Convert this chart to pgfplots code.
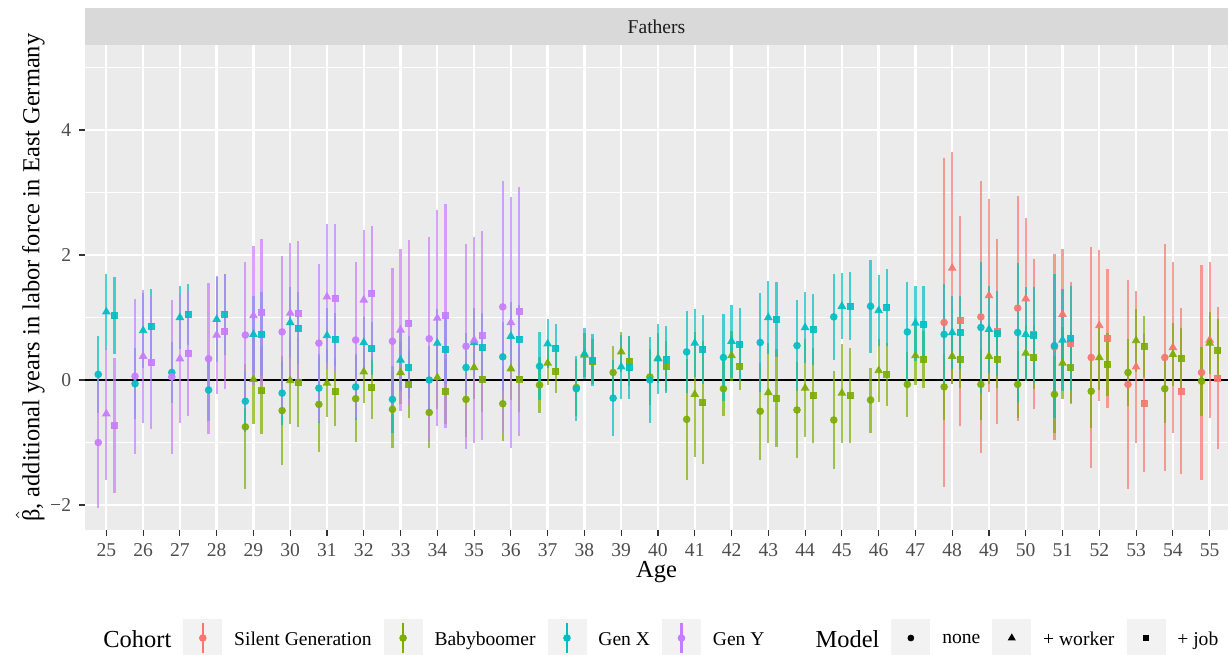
\documentclass[border=0pt]{standalone}
\usepackage{fontspec}
\setmainfont{Liberation Serif}
\usepackage{amsmath}
\usepackage{pgfplots}
\usepackage{pgfplotstable}
\pgfplotsset{compat=1.18}

\definecolor{cS}{HTML}{F8766D}
\definecolor{cB}{HTML}{7CAE00}
\definecolor{cX}{HTML}{00BFC4}
\definecolor{cY}{HTML}{C77CFF}
\definecolor{panelbg}{HTML}{EBEBEB}
\definecolor{stripbg}{HTML}{D9D9D9}
\definecolor{keybg}{HTML}{F2F2F2}
\definecolor{tickc}{HTML}{4D4D4D}
\definecolor{tickm}{HTML}{333333}
\definecolor{stript}{HTML}{1A1A1A}

% estimate (n/w/j = none, + worker, + job) and CI half-width (ne/we/je)
\pgfplotstableread{
age n ne w we j je
48 0.92 2.63 1.79 1.85 0.95 1.68
49 1.01 2.18 1.35 1.54 0.77 1.48
50 1.15 1.80 1.30 1.29 0.73 1.20
51 0.53 1.49 1.05 1.04 0.59 0.97
52 0.36 1.76 0.87 1.21 0.67 1.11
53 -0.07 1.67 0.21 1.21 -0.37 1.10
54 0.36 1.82 0.52 1.36 -0.18 1.33
55 0.12 1.72 0.64 1.24 0.03 1.13
}\silent

\pgfplotstableread{
age n ne w we j je
29 -0.75 1.00 0.01 0.72 -0.17 0.70
30 -0.49 0.87 -0.01 0.70 -0.04 0.71
31 -0.39 0.76 -0.05 0.54 -0.19 0.55
32 -0.30 0.69 0.13 0.50 -0.12 0.50
33 -0.47 0.62 0.12 0.50 -0.07 0.53
34 -0.52 0.57 0.04 0.50 -0.18 0.52
35 -0.31 0.60 0.20 0.50 0.01 0.52
36 -0.38 0.60 0.18 0.50 0.01 0.52
37 -0.08 0.45 0.27 0.35 0.14 0.34
38 -0.12 0.45 0.40 0.35 0.29 0.36
39 0.12 0.42 0.45 0.32 0.30 0.40
40 0.05 0.45 0.35 0.40 0.22 0.40
41 -0.63 0.97 -0.23 1.00 -0.36 0.99
42 -0.14 0.44 0.39 0.40 0.22 0.38
43 -0.50 0.78 -0.20 0.80 -0.29 0.78
44 -0.48 0.77 -0.13 0.78 -0.25 0.76
45 -0.64 0.79 -0.21 0.79 -0.25 0.76
46 -0.32 0.52 0.15 0.50 0.09 0.50
47 -0.07 0.52 0.39 0.47 0.33 0.46
48 -0.11 0.53 0.38 0.45 0.33 0.45
49 -0.07 0.57 0.38 0.45 0.33 0.45
50 -0.07 0.53 0.43 0.45 0.36 0.51
51 -0.23 0.62 0.27 0.58 0.20 0.57
52 -0.18 0.58 0.36 0.52 0.25 0.50
53 0.12 0.54 0.63 0.50 0.54 0.49
54 -0.14 0.55 0.41 0.50 0.35 0.48
55 -0.02 0.55 0.59 0.49 0.48 0.50
}\boomer

\pgfplotstableread{
age n ne w we j je
25 0.09 0.61 1.09 0.61 1.03 0.61
26 -0.06 0.57 0.79 0.60 0.86 0.59
27 0.12 0.49 1.00 0.50 1.05 0.49
28 -0.16 0.49 0.97 0.68 1.05 0.65
29 -0.34 0.49 0.73 0.62 0.73 0.67
30 -0.21 0.51 0.92 0.57 0.83 0.58
31 -0.13 0.55 0.71 0.44 0.65 0.42
32 -0.11 0.53 0.60 0.41 0.50 0.42
33 -0.31 0.54 0.32 0.50 0.20 0.50
34 0.00 0.55 0.59 0.55 0.49 0.55
35 0.20 0.55 0.60 0.55 0.52 0.55
36 0.37 0.55 0.70 0.55 0.65 0.55
37 0.22 0.54 0.58 0.39 0.51 0.38
38 -0.14 0.52 0.42 0.41 0.32 0.42
39 -0.29 0.61 0.21 0.51 0.20 0.50
40 0.00 0.69 0.34 0.56 0.33 0.54
41 0.45 0.66 0.59 0.54 0.49 0.55
42 0.36 0.69 0.62 0.58 0.57 0.58
43 0.60 0.79 1.00 0.58 0.97 0.60
44 0.55 0.73 0.84 0.56 0.81 0.57
45 1.01 0.69 1.18 0.53 1.18 0.54
46 1.18 0.74 1.11 0.57 1.16 0.61
47 0.77 0.79 0.91 0.60 0.89 0.62
48 0.73 0.81 0.76 0.58 0.76 0.59
49 0.84 1.05 0.81 0.69 0.74 0.68
50 0.76 1.11 0.73 0.75 0.72 0.76
51 0.55 1.15 0.64 0.81 0.67 0.83
}\genx

\pgfplotstableread{
age n ne w we j je
25 -1.00 1.05 -0.54 1.06 -0.73 1.08
26 0.06 1.24 0.38 1.06 0.28 1.07
27 0.05 1.23 0.34 1.03 0.43 1.01
28 0.34 1.21 0.72 0.94 0.78 0.92
29 0.72 1.17 1.03 1.11 1.08 1.17
30 0.77 1.22 1.07 1.12 1.07 1.15
31 0.59 1.26 1.33 1.16 1.31 1.18
32 0.64 1.24 1.28 1.12 1.39 1.07
33 0.62 1.17 0.80 1.30 0.91 1.33
34 0.66 1.63 0.99 1.73 1.03 1.79
35 0.54 1.64 0.64 1.65 0.71 1.67
36 1.17 2.02 0.92 2.01 1.10 1.99
}\geny

\pgfplotsset{
  rng/.style={forget plot, draw=none, mark=none,
    error bars/.cd, y dir=both, y explicit, error mark=none,
    error bar style={draw=#1, line width=1pt, draw opacity=0.7}},
  ptn/.style={forget plot, only marks, mark=*, mark size=1.5pt,
    mark options={draw=#1, fill=#1, opacity=0.9}},
  ptw/.style={forget plot, only marks, mark=triangle*, mark size=1.9pt,
    mark options={draw=#1, fill=#1, opacity=0.9}},
  ptj/.style={forget plot, only marks, mark=square*, mark size=1.35pt,
    mark options={draw=#1, fill=#1, opacity=0.9}},
  cohortkey/.style={legend image code/.code={
    \fill[keybg] (0pt,-7.45pt) rectangle (17.1pt,9.65pt);
    \draw[#1, line width=1pt] (8.55pt,-5.65pt) -- (8.55pt,7.85pt);
    \fill[#1] (8.55pt,1.1pt) circle (1.5pt);}},
}

\begin{document}
\begin{tikzpicture}
\useasboundingbox (0,0) rectangle (553.05pt,294.3pt);
\begin{axis}[
  at={(38.25pt,55.8pt)}, anchor=south west,
  width=514.35pt, height=218.25pt, scale only axis,
  xmin=24.42, xmax=55.5, ymin=-2.4, ymax=5.36,
  axis background/.style={fill=panelbg},
  axis lines*=left, axis line style={draw=none},
  xtick={25,...,55}, ytick={-2,0,2,4},
  yticklabels={−2,0,2,4},
  minor ytick={-1,1,3,5},
  grid=both,
  major grid style={white, line width=1.05pt},
  minor grid style={white, line width=0.55pt},
  tick align=outside, major tick length=2.75pt, minor tick length=0pt,
  tick style={tickm, line width=0.5pt},
  /pgf/number format/assume math mode=true,
  ticklabel style={font=\fontsize{8.8}{10}\selectfont, text=tickc},
  xlabel={Age},
  ylabel={$\hat{\text{β}}$, additional years in labor force in East Germany},
  label style={font=\fontsize{11}{13}\selectfont},
  xlabel style={at={(axis description cs:0.5,-0.087)}, anchor=center},
  ylabel style={at={(axis description cs:-0.048,0.52)}, anchor=center},
  legend style={at={(axis description cs:0.00525,-0.2227)}, anchor=west,
    draw=none, fill=none, inner sep=0pt, legend columns=-1,
    font=\fontsize{8.8}{10}\selectfont,
    /tikz/every odd column/.style={column sep=0pt},
    /tikz/every even column/.style={column sep=0pt},
    nodes={inner xsep=5.4pt, inner ysep=0pt}},
  legend cell align=left,
  after end axis/.code={
    \fill[stripbg] (rel axis cs:0,1) rectangle (rel axis cs:1,1.0763);
    \node[font=\fontsize{8.8}{10}\selectfont, text=stript]
      at (rel axis cs:0.5,1.0381) {Fathers};
  },
]
% zero reference line
\addplot[forget plot, black, line width=1.1pt] coordinates {(24.42,0) (55.5,0)};

% confidence intervals
\addplot[rng=cS] table[x expr=\thisrow{age}-0.22, y=n, y error=ne] {\silent};
\addplot[rng=cS] table[x=age, y=w, y error=we] {\silent};
\addplot[rng=cS] table[x expr=\thisrow{age}+0.22, y=j, y error=je] {\silent};
\addplot[rng=cB] table[x expr=\thisrow{age}-0.22, y=n, y error=ne] {\boomer};
\addplot[rng=cB] table[x=age, y=w, y error=we] {\boomer};
\addplot[rng=cB] table[x expr=\thisrow{age}+0.22, y=j, y error=je] {\boomer};
\addplot[rng=cX] table[x expr=\thisrow{age}-0.22, y=n, y error=ne] {\genx};
\addplot[rng=cX] table[x=age, y=w, y error=we] {\genx};
\addplot[rng=cX] table[x expr=\thisrow{age}+0.22, y=j, y error=je] {\genx};
\addplot[rng=cY] table[x expr=\thisrow{age}-0.22, y=n, y error=ne] {\geny};
\addplot[rng=cY] table[x=age, y=w, y error=we] {\geny};
\addplot[rng=cY] table[x expr=\thisrow{age}+0.22, y=j, y error=je] {\geny};

% point estimates
\addplot[ptn=cS] table[x expr=\thisrow{age}-0.22, y=n] {\silent};
\addplot[ptw=cS] table[x=age, y=w] {\silent};
\addplot[ptj=cS] table[x expr=\thisrow{age}+0.22, y=j] {\silent};
\addplot[ptn=cB] table[x expr=\thisrow{age}-0.22, y=n] {\boomer};
\addplot[ptw=cB] table[x=age, y=w] {\boomer};
\addplot[ptj=cB] table[x expr=\thisrow{age}+0.22, y=j] {\boomer};
\addplot[ptn=cX] table[x expr=\thisrow{age}-0.22, y=n] {\genx};
\addplot[ptw=cX] table[x=age, y=w] {\genx};
\addplot[ptj=cX] table[x expr=\thisrow{age}+0.22, y=j] {\genx};
\addplot[ptn=cY] table[x expr=\thisrow{age}-0.22, y=n] {\geny};
\addplot[ptw=cY] table[x=age, y=w] {\geny};
\addplot[ptj=cY] table[x expr=\thisrow{age}+0.22, y=j] {\geny};

% legend
\addlegendimage{legend image code/.code={}}
\addlegendentry{\fontsize{11}{13}\selectfont Cohort}
\addlegendimage{cohortkey=cS}
\addlegendentry{Silent Generation}
\addlegendimage{cohortkey=cB}
\addlegendentry{Babyboomer}
\addlegendimage{cohortkey=cX}
\addlegendentry{Gen X}
\addlegendimage{cohortkey=cY}
\addlegendentry{Gen Y\kern12.2pt}
\addlegendimage{legend image code/.code={}}
\addlegendentry{\fontsize{11}{13}\selectfont Model}
\addlegendimage{legend image code/.code={
  \fill[keybg] (0pt,-7.45pt) rectangle (17.1pt,9.65pt);
  \fill[black] (8.55pt,1.1pt) circle (1.3pt);}}
\addlegendentry{none}
\addlegendimage{legend image code/.code={
  \fill[keybg] (0pt,-7.45pt) rectangle (17.1pt,9.65pt);
  \fill[black] (8.55pt,2.8pt) -- (7.08pt,0.25pt) -- (10.02pt,0.25pt) -- cycle;}}
\addlegendentry{+ worker}
\addlegendimage{legend image code/.code={
  \fill[keybg] (0pt,-7.45pt) rectangle (17.1pt,9.65pt);
  \fill[black] (7.35pt,-0.1pt) rectangle (9.75pt,2.3pt);}}
\addlegendentry{+ job}
\end{axis}
\end{tikzpicture}
\end{document}
